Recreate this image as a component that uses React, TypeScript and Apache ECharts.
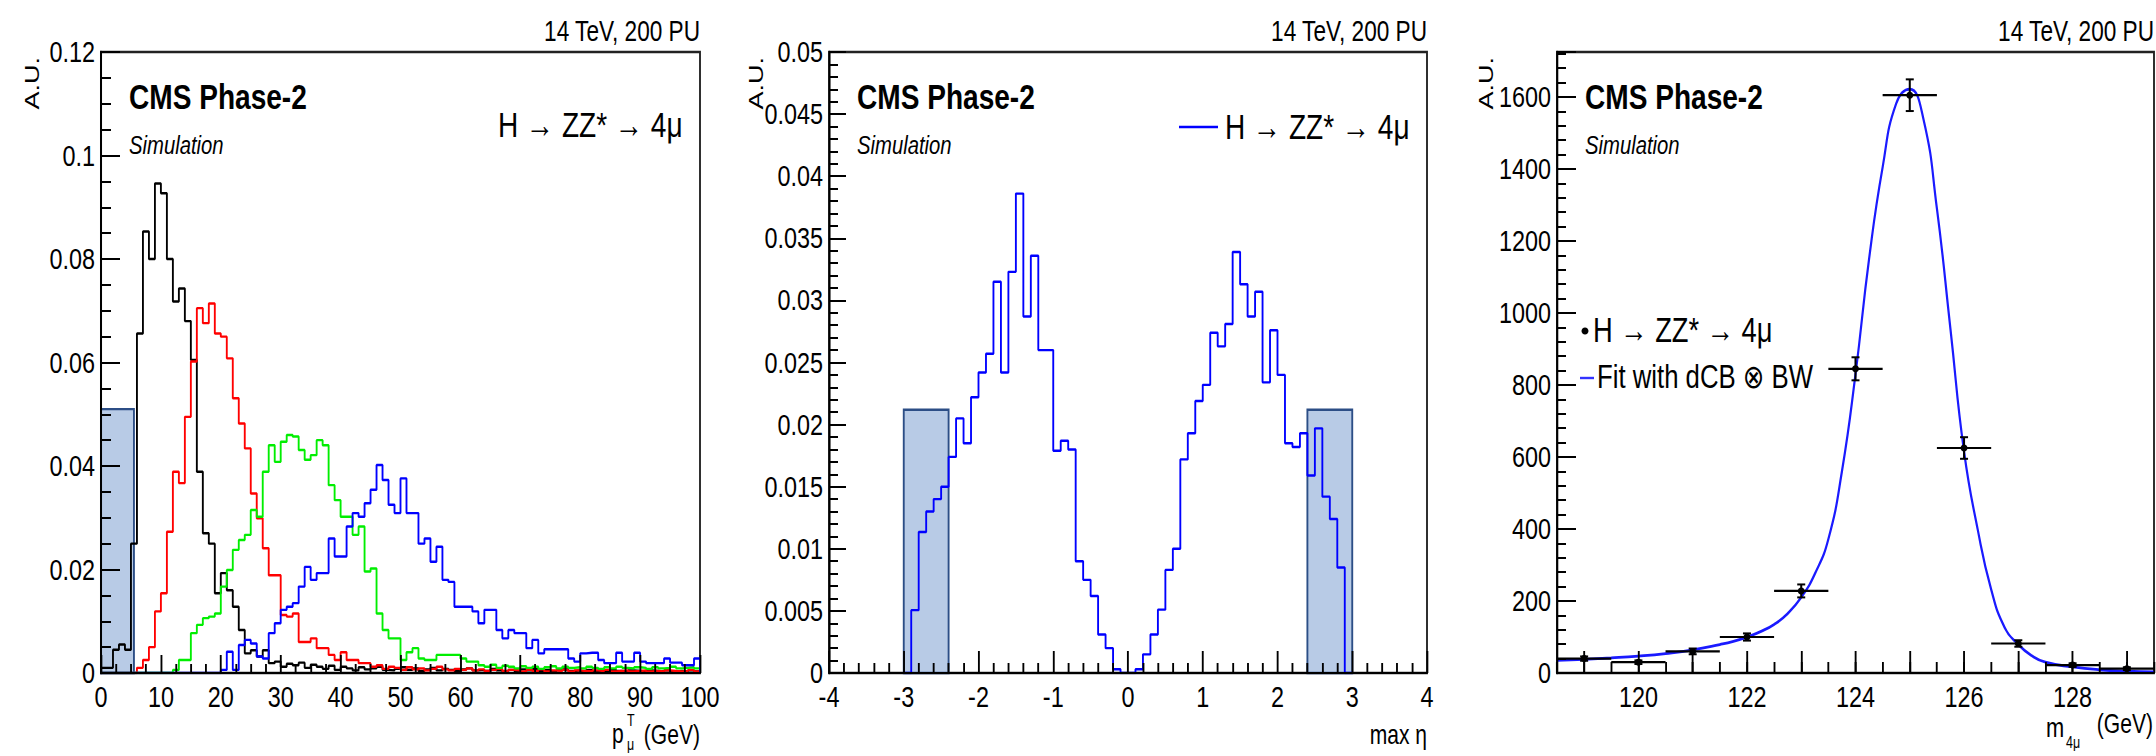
import React, { useEffect, useRef } from "react";
import * as echarts from "echarts";

const FONT = "'Liberation Sans', Arial, 'DejaVu Sans', sans-serif";
// The canvas is drawn wide and condensed horizontally, which gives the narrow
// ROOT-style lettering; SX converts page pixels into chart pixels.
const SQUEEZE = 0.78;
const PAGE_W = 2156;
const PAGE_H = 756;
const SX = (px: number) => px / SQUEEZE;

// ---------- Panel 1: muon pT spectra (1 GeV bins, 0-100 GeV, unit area) ----------
const PT_START = 0;
const PT_BIN = 1;
// fourth (softest) muon
const ptFourth = [
  0.001, 0.001, 0.0045, 0.0055, 0.0045, 0.025, 0.0656, 0.0853, 0.080, 0.0946,
  0.0927, 0.080, 0.0718, 0.0743, 0.068, 0.0605, 0.0389, 0.027, 0.025, 0.0154,
  0.0193, 0.016, 0.0128, 0.0083, 0.0038, 0.0044, 0.0032, 0.0044, 0.0019, 0.0022,
  0.0012, 0.0018, 0.0015, 0.002, 0.001, 0.0016, 0.0012, 0.0008, 0.0014, 0.0006,
  0.0012, 0.0009, 0.0005, 0.0011, 0.0007, 0.0009, 0.0012, 0.0006, 0.0005, 0.0008,
  0.0011, 0.0006, 0.0009, 0.0004, 0.0007, 0.001, 0.0005, 0.0008, 0.0006, 0.0004,
  0.0007, 0.0009, 0.0005, 0.0006, 0.0004, 0.0008, 0.0005, 0.0003, 0.0006, 0.0004,
  0.0007, 0.0005, 0.0008, 0.0004, 0.0006, 0.0003, 0.0005, 0.0007, 0.0004, 0.0005,
  0.0003, 0.0006, 0.0004, 0.0005, 0.0003, 0.0006, 0.0004, 0.0003, 0.0005, 0.0004,
  0.0003, 0.0005, 0.0004, 0.0003, 0.0005, 0.0003, 0.0004, 0.0003, 0.0005, 0.0003,
];
// third muon
const ptThird = [
  0, 0, 0, 0, 0, 0, 0.001, 0.0025, 0.005, 0.0119,
  0.0154, 0.0273, 0.0389, 0.0367, 0.0495, 0.0602, 0.0705, 0.0676, 0.0714, 0.0656,
  0.065, 0.0608, 0.0531, 0.0482, 0.0434, 0.0347, 0.0299, 0.0241, 0.0189, 0.0189,
  0.0112, 0.0109, 0.0115, 0.006, 0.006, 0.0067, 0.0048, 0.0048, 0.0035, 0.0025,
  0.004, 0.0025, 0.0025, 0.0019, 0.0019, 0.0012, 0.0015, 0.0008, 0.0012, 0.001,
  0.0006, 0.0011, 0.0007, 0.0009, 0.0005, 0.0008, 0.0012, 0.0007, 0.0005, 0.0008,
  0.0006, 0.0009, 0.0005, 0.0007, 0.0004, 0.0006, 0.0008, 0.0004, 0.0006, 0.0005,
  0.0003, 0.0006, 0.0004, 0.0007, 0.0003, 0.0005, 0.0004, 0.0006, 0.0003, 0.0005,
  0.0004, 0.0003, 0.0005, 0.0004, 0.0006, 0.0003, 0.0004, 0.0005, 0.0003, 0.0004,
  0.0005, 0.0003, 0.0004, 0.0003, 0.0005, 0.0004, 0.0003, 0.0004, 0.0006, 0.0003,
];
// second muon
const ptSecond = [
  0, 0, 0, 0, 0, 0, 0, 0, 0, 0,
  0, 0, 0.0006, 0.0025, 0.0025, 0.0077, 0.0093, 0.0106, 0.0109, 0.0115,
  0.0167, 0.0199, 0.0238, 0.0257, 0.0267, 0.0315, 0.0302, 0.0389, 0.044, 0.0408,
  0.0447, 0.046, 0.0457, 0.0431, 0.0412, 0.0421, 0.045, 0.044, 0.0363, 0.0334,
  0.0302, 0.0302, 0.0267, 0.0283, 0.0196, 0.0202, 0.0115, 0.0083, 0.0067, 0.0067,
  0.0025, 0.004, 0.0048, 0.0028, 0.0025, 0.0025, 0.0035, 0.0035, 0.0035, 0.0035,
  0.0028, 0.0022, 0.0022, 0.0015, 0.0012, 0.0016, 0.001, 0.0014, 0.0012, 0.0009,
  0.0013, 0.001, 0.0012, 0.0008, 0.0011, 0.0013, 0.0009, 0.0012, 0.001, 0.0011,
  0.0009, 0.0012, 0.001, 0.0008, 0.0011, 0.0009, 0.0012, 0.001, 0.0009, 0.0011,
  0.001, 0.0008, 0.0011, 0.0009, 0.001, 0.0012, 0.0009, 0.001, 0.0011, 0.0009,
];
// leading muon
const ptLeading = [
  0, 0, 0, 0, 0, 0, 0, 0, 0, 0,
  0, 0, 0, 0, 0, 0, 0, 0, 0, 0,
  0.0006, 0.0041, 0.0006, 0.0054, 0.0064, 0.0057, 0.0032, 0.0028, 0.0077, 0.0096,
  0.0122, 0.0128, 0.0135, 0.0167, 0.0205, 0.018, 0.0193, 0.0193, 0.026, 0.0225,
  0.0225, 0.0283, 0.0309, 0.0302, 0.0328, 0.0354, 0.0402, 0.0373, 0.0325, 0.0309,
  0.0376, 0.0309, 0.0309, 0.025, 0.026, 0.0215, 0.0244, 0.018, 0.0176, 0.0128,
  0.0128, 0.0128, 0.0119, 0.0096, 0.0122, 0.0122, 0.0083, 0.0067, 0.0083, 0.0077,
  0.0077, 0.0048, 0.0064, 0.0038, 0.0046, 0.0046, 0.0046, 0.0046, 0.0028, 0.0022,
  0.0038, 0.0039, 0.0039, 0.0025, 0.0019, 0.0019, 0.0039, 0.0022, 0.0022, 0.0039,
  0.0022, 0.0019, 0.0019, 0.0019, 0.0028, 0.002, 0.002, 0.0015, 0.0015, 0.0028,
];
// shaded low-pT region: [from, to, height]
const ptBoxes = [[0, 5.5, 0.051]];

// ---------- Panel 2: max eta of the four muons (0.1 bins from -3) ----------
const ETA_START = -3;
const ETA_BIN = 0.1;
const etaMax = [
  0, 0.00506, 0.01135, 0.013, 0.014, 0.015, 0.0174, 0.0205, 0.0185, 0.0222,
  0.0242, 0.0257, 0.0315, 0.0242, 0.0323, 0.0386, 0.0287, 0.0336, 0.026, 0.026,
  0.0179, 0.0187, 0.018, 0.009, 0.0075, 0.0062, 0.0031, 0.002, 0.0003, 0,
  0, 0.0003, 0.0015, 0.0031, 0.0051, 0.0083, 0.01, 0.0172, 0.0193, 0.0219,
  0.0232, 0.0274, 0.0263, 0.0281, 0.0339, 0.0313, 0.0287, 0.0307, 0.0234, 0.0276,
  0.024, 0.0185, 0.0182, 0.0193, 0.0159, 0.0197, 0.0142, 0.0124, 0.0085, 0,
];
const etaBoxes = [
  [-3, -2.4, 0.0212],
  [2.4, 3, 0.0212],
];

// ---------- Panel 3: four-muon invariant mass ----------
const massCenters = [119, 120, 121, 122, 123, 124, 125, 126, 127, 128, 129];
const massCounts = [40, 30, 60, 100, 228, 845, 1605, 625, 82, 22, 12];
const massErrors = [6, 5, 8, 10, 18, 32, 44, 30, 9, 5, 4];
const MASS_HALF_BIN = 0.5;
// dCB (x) BW fit curve
const fitMass = [
  118.5, 119, 119.5, 120, 120.5, 121, 121.5, 121.75, 122, 122.25, 122.5, 122.75,
  123, 123.25, 123.5, 123.75, 124, 124.25, 124.5, 124.75, 125, 125.25, 125.5,
  125.75, 126, 126.25, 126.5, 126.75, 127, 127.25, 127.5, 128, 128.5, 129, 129.5,
];
const fitValues = [
  35, 38, 42, 47, 54, 64, 79, 88, 100, 115, 135, 165,
  210, 275, 372, 560, 830, 1150, 1405, 1582, 1622, 1540, 1290,
  955, 615, 400, 232, 126, 79, 48, 30, 17, 9, 5, 3,
];

// plot frames in page pixels
const FRAMES = [
  { left: 101, top: 52, width: 599, height: 621 },
  { left: 829, top: 52, width: 598, height: 621 },
  { left: 1557, top: 52, width: 597, height: 621 },
];

function histogramOutline(start: number, width: number, values: number[]) {
  const pts: number[][] = [[start, 0]];
  values.forEach((v, i) => {
    pts.push([start + i * width, v]);
    pts.push([start + (i + 1) * width, v]);
  });
  pts.push([start + values.length * width, 0]);
  return pts;
}

const LABEL = { color: "#000", fontSize: 30, fontFamily: FONT };

const xAxisBase = (extra: any = {}) => ({
  type: "value",
  z: 5,
  axisLine: { show: true, onZero: false, lineStyle: { color: "#000", width: 2 } },
  axisTick: { show: true, inside: true, length: 18, lineStyle: { color: "#000", width: 2.4 } },
  splitLine: { show: false },
  minorSplitLine: { show: false },
  axisLabel: { ...LABEL, margin: 9 },
  ...extra,
});

const yAxisBase = (extra: any = {}) => ({
  type: "value",
  z: 5,
  axisLine: { show: true, onZero: false, lineStyle: { color: "#000", width: 2.6 } },
  axisTick: { show: true, inside: true, length: SX(18), lineStyle: { color: "#000", width: 2 } },
  splitLine: { show: false },
  minorSplitLine: { show: false },
  axisLabel: { ...LABEL, margin: SX(6), formatter: (v: number) => String(v) },
  ...extra,
});

const boxItem = (params: any, api: any) => {
  const tl = api.coord([api.value(0), api.value(2)]);
  const br = api.coord([api.value(1), 0]);
  return {
    type: "rect",
    shape: { x: tl[0], y: tl[1], width: br[0] - tl[0], height: br[1] - tl[1] },
    style: { fill: "#b8cbe6", stroke: "#2c4e86", lineWidth: 2.4 },
  };
};

const errorItem = (params: any, api: any) => {
  const x = api.value(0);
  const y = api.value(1);
  const ex = api.value(2);
  const ey = api.value(3);
  const c = api.coord([x, y]);
  const l = api.coord([x - ex, y]);
  const r = api.coord([x + ex, y]);
  const t = api.coord([x, y + ey]);
  const b = api.coord([x, y - ey]);
  const cap = SX(4);
  return {
    type: "group",
    children: [
      { type: "line", shape: { x1: l[0], y1: c[1], x2: r[0], y2: c[1] }, style: { stroke: "#000", lineWidth: 2.2 } },
      { type: "line", shape: { x1: c[0], y1: t[1], x2: c[0], y2: b[1] }, style: { stroke: "#000", lineWidth: 2.6 } },
      { type: "line", shape: { x1: c[0] - cap, y1: t[1], x2: c[0] + cap, y2: t[1] }, style: { stroke: "#000", lineWidth: 2 } },
      { type: "line", shape: { x1: c[0] - cap, y1: b[1], x2: c[0] + cap, y2: b[1] }, style: { stroke: "#000", lineWidth: 2 } },
      { type: "ellipse", shape: { cx: c[0], cy: c[1], rx: SX(3.5), ry: 3.5 }, style: { fill: "#000" } },
    ],
  };
};

// text positioned in page pixels
const txt = (text: string, x: number, y: number, size: number, opts: any = {}) => ({
  type: "text",
  x: SX(x),
  y,
  rotation: opts.rotation || 0,
  z: 10,
  style: {
    text,
    fill: "#000",
    fontSize: size,
    fontFamily: FONT,
    fontWeight: opts.weight || "normal",
    fontStyle: opts.style || "normal",
    align: opts.align || "left",
    textAlign: opts.align || "left",
    verticalAlign: "middle",
    textVerticalAlign: "middle",
  },
});

const hline = (x1: number, x2: number, y: number, color: string) => ({
  type: "line",
  z: 10,
  shape: { x1: SX(x1), y1: y, x2: SX(x2), y2: y },
  style: { stroke: color, lineWidth: 2.4 },
});

function buildGraphics() {
  const els: any[] = [];
  const auX = [32, 756, 1486];
  FRAMES.forEach((f, i) => {
    const right = f.left + f.width;
    els.push(txt("14 TeV, 200 PU", right, 31, 29, { align: "right" }));
    els.push(txt("CMS Phase-2", f.left + 28, 97, 36, { weight: "bold" }));
    els.push(txt("Simulation", f.left + 28, 145, 26, { style: "italic" }));
    els.push(txt("A.U.", auX[i], 57, 27, { align: "right", rotation: Math.PI / 2 }));
  });
  // panel 1 label
  els.push(txt("H \u2192 ZZ* \u2192 4\u03bc", 498, 125, 36));
  // panel 2 legend
  els.push(hline(1179, 1218, 127, "#0000ff"));
  els.push(txt("H \u2192 ZZ* \u2192 4\u03bc", 1225, 127, 36));
  // panel 3 legend
  els.push({ type: "ellipse", z: 10, shape: { cx: SX(1585), cy: 331, rx: SX(3.5), ry: 3.5 }, style: { fill: "#000" } });
  els.push(txt("H \u2192 ZZ* \u2192 4\u03bc", 1593, 330, 35));
  els.push(hline(1580, 1594, 378, "#3333ff"));
  els.push(txt("Fit with dCB \u2297 BW", 1597, 376, 33));
  // axis titles
  els.push(txt("p", 612, 734, 27));
  els.push(txt("T", 627, 720, 16));
  els.push(txt("\u03bc", 627, 744, 16));
  els.push(txt("(GeV)", 700, 735, 27, { align: "right" }));
  els.push(txt("max \u03b7", 1427, 735, 27, { align: "right" }));
  els.push(txt("m", 2046, 727, 28));
  els.push(txt("4\u03bc", 2066, 742, 16));
  els.push(txt("(GeV)", 2153, 724, 27, { align: "right" }));
  return els;
}

export default function App() {
  const ref = useRef<HTMLDivElement>(null);

  useEffect(() => {
    if (!ref.current) return;
    const chart = echarts.init(ref.current, undefined, { renderer: "svg" });

    const massPoints = massCenters.map((m, i) => [m, massCounts[i], MASS_HALF_BIN, massErrors[i]]);
    const fitLine = fitMass.map((m, i) => [m, fitValues[i]]);

    const histLine = (data: number[][], color: string, xi: number) => ({
      type: "line",
      xAxisIndex: xi,
      yAxisIndex: xi,
      data,
      showSymbol: false,
      symbol: "none",
      silent: true,
      z: 2,
      lineStyle: { color, width: 2.4 },
    });

    chart.setOption({
      animation: false,
      backgroundColor: "#fff",
      grid: FRAMES.map((f) => ({
        left: SX(f.left),
        top: f.top,
        width: SX(f.width),
        height: f.height,
        show: true,
        borderColor: "#222",
        borderWidth: 2.4,
      })),
      xAxis: [
        xAxisBase({
          gridIndex: 0, min: 0, max: 100, interval: 10,
          minorTick: { show: true, splitNumber: 4, length: 9, lineStyle: { color: "#000", width: 2.4 } },
        }),
        xAxisBase({
          gridIndex: 1, min: -4, max: 4, interval: 1,
          axisTick: { show: true, inside: true, length: 22, lineStyle: { color: "#000", width: 2.4 } },
          minorTick: { show: true, splitNumber: 5, length: 10, lineStyle: { color: "#000", width: 2.4 } },
        }),
        xAxisBase({
          gridIndex: 2, min: 118.5, max: 129.5, position: "bottom",
          axisTick: {
            show: true, inside: true, length: 22, lineStyle: { color: "#000", width: 2.4 },
            customValues: [119, 120, 121, 122, 123, 124, 125, 126, 127, 128, 129],
          },
          axisLabel: { ...LABEL, margin: 9, customValues: [120, 122, 124, 126, 128] },
        }),
        xAxisBase({
          gridIndex: 2, min: 118.5, max: 129.5, interval: 0.5, position: "bottom",
          axisLine: { show: false },
          axisTick: { show: true, inside: true, length: 11, lineStyle: { color: "#000", width: 2.4 } },
          axisLabel: { show: false },
        }),
      ],
      yAxis: [
        yAxisBase({
          gridIndex: 0, min: 0, max: 0.12, interval: 0.02,
          axisTick: { show: true, inside: true, length: SX(19), lineStyle: { color: "#000", width: 2 } },
          minorTick: { show: true, splitNumber: 4, length: SX(10), lineStyle: { color: "#000", width: 2 } },
        }),
        yAxisBase({
          gridIndex: 1, min: 0, max: 0.05, interval: 0.005,
          axisTick: { show: true, inside: true, length: SX(17), lineStyle: { color: "#000", width: 2 } },
          minorTick: { show: true, splitNumber: 5, length: SX(9), lineStyle: { color: "#000", width: 2 } },
        }),
        yAxisBase({
          gridIndex: 2, min: 0, max: 1725, interval: 200,
          axisTick: { show: true, inside: true, length: SX(19), lineStyle: { color: "#000", width: 2 } },
          minorTick: { show: true, splitNumber: 5, length: SX(9), lineStyle: { color: "#000", width: 2 } },
          axisLabel: { ...LABEL, margin: SX(6), showMaxLabel: false, formatter: (v: number) => String(v) },
        }),
      ],
      series: [
        {
          type: "custom", xAxisIndex: 0, yAxisIndex: 0, renderItem: boxItem,
          data: ptBoxes, encode: { x: [0, 1], y: 2 }, z: 1, silent: true,
        },
        histLine(histogramOutline(PT_START, PT_BIN, ptFourth), "#000000", 0),
        histLine(histogramOutline(PT_START, PT_BIN, ptThird), "#ff0000", 0),
        histLine(histogramOutline(PT_START, PT_BIN, ptSecond), "#00ee00", 0),
        histLine(histogramOutline(PT_START, PT_BIN, ptLeading), "#0000ff", 0),
        {
          type: "custom", xAxisIndex: 1, yAxisIndex: 1, renderItem: boxItem,
          data: etaBoxes, encode: { x: [0, 1], y: 2 }, z: 1, silent: true,
        },
        histLine(histogramOutline(ETA_START, ETA_BIN, etaMax), "#0000ff", 1),
        {
          type: "line", xAxisIndex: 2, yAxisIndex: 2, data: fitLine, smooth: 0.5,
          showSymbol: false, symbol: "none", silent: true, z: 2,
          lineStyle: { color: "#1a1aff", width: 2.8 },
        },
        {
          type: "custom", xAxisIndex: 2, yAxisIndex: 2, renderItem: errorItem,
          data: massPoints, encode: { x: 0, y: 1 }, z: 3, silent: true,
        },
      ],
      graphic: { elements: buildGraphics() },
    });

    return () => chart.dispose();
  }, []);

  return (
    <div style={{ position: "absolute", left: 0, top: 0, width: PAGE_W, height: PAGE_H, overflow: "hidden", background: "#fff" }}>
      <div
        ref={ref}
        style={{
          width: SX(PAGE_W),
          height: PAGE_H,
          transform: `scaleX(${SQUEEZE})`,
          transformOrigin: "0 0",
        }}
      />
    </div>
  );
}
